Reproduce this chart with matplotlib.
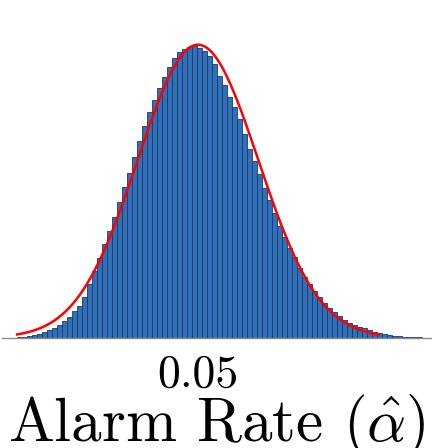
import numpy as np
import matplotlib
matplotlib.use("Agg")
import matplotlib.pyplot as plt

# histogram of the alarm rate (density)
bin_start = 0.0319
bin_width = 0.0005
density = [
    0.11, 0.20, 0.38, 0.61, 0.88, 1.24, 1.67, 2.19, 2.82, 3.66,
    4.67, 5.92, 7.27, 9.19, 12.13, 15.06, 18.00, 21.16, 24.09, 27.25,
    30.64, 34.03, 37.19, 40.80, 44.41, 47.80, 50.96, 53.67, 56.38, 58.87,
    61.12, 63.16, 64.40, 65.19, 65.75, 65.87, 65.41, 64.74, 63.61, 61.80,
    59.20, 57.17, 54.46, 52.09, 49.27, 46.00, 42.50, 39.90, 36.96, 33.69,
    31.09, 28.16, 25.11, 22.74, 20.25, 18.11, 15.74, 13.71, 12.13, 10.54,
    9.19, 7.84, 6.71, 5.80, 4.90, 4.00, 3.32, 2.87, 2.42, 2.08,
    1.74, 1.29, 1.06, 0.84, 0.61, 0.38, 0.34, 0.23, 0.14, 0.09, 0.07,
]

# fitted normal
mu = 0.05
sigma = 0.00603

xticks = [0.05]
xtick_labels = ["0.05"]
xlabel = r"Alarm Rate ($\hat{\alpha}$)"

plt.rcParams["font.family"] = "serif"
plt.rcParams["font.serif"] = ["cmr10"]
plt.rcParams["mathtext.fontset"] = "cm"
plt.rcParams["axes.unicode_minus"] = False

fig = plt.figure(figsize=(4.32, 4.48), dpi=100)
ax = fig.add_axes([0.0046, 0.2462, 0.9954, 0.692])

edges = bin_start + bin_width * np.arange(len(density))
ax.bar(edges, density, width=bin_width, align="edge",
       color="#3070B8", edgecolor="#1B3A66", linewidth=0.6)

xs = np.linspace(mu - 3 * sigma, mu + 3 * sigma, 300)
pdf = np.exp(-0.5 * ((xs - mu) / sigma) ** 2) / (sigma * np.sqrt(2 * np.pi))
ax.plot(xs, pdf, color="red", linewidth=1.8)

ax.set_xlim(0.0304, 0.0734)
ax.set_ylim(0, 70)
ax.set_yticks([])
for s in ["top", "right", "left"]:
    ax.spines[s].set_visible(False)
ax.spines["bottom"].set_color("0.55")
ax.spines["bottom"].set_linewidth(1.0)

ax.set_xticks(xticks)
ax.set_xticklabels(xtick_labels, fontsize=33)
ax.tick_params(axis="x", length=0, pad=12)
ax.set_xlabel(xlabel, fontsize=44, labelpad=-3)

fig.savefig("out.png", dpi=100)
